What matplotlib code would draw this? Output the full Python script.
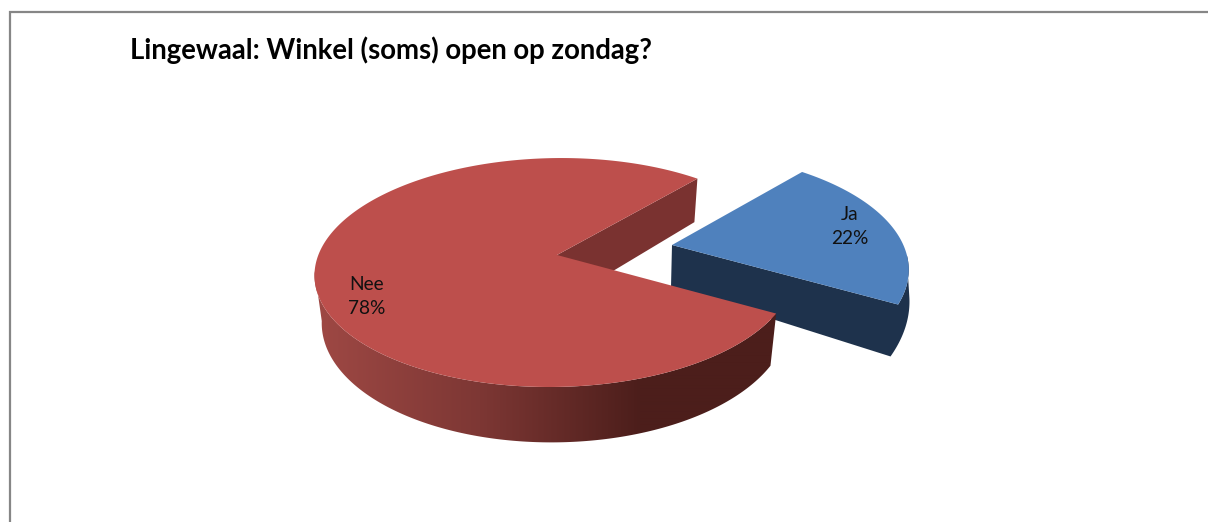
import numpy as np
import matplotlib
matplotlib.use("Agg")
import matplotlib.pyplot as plt
from matplotlib.patches import Polygon

title = "Lingewaal: Winkel (soms) open op zondag?"
categories = ["Ja", "Nee"]
values = [22, 78]

START = 50.0
RED_TOP = dict(ax=557, ay=255, R=237, ry=111.8, k=0.153, m=0.007, s=6)
RED_BOT = dict(ax=558, ay=304, R=231, ry=119, k=0.14, m=0.01, s=4)
BLUE_TOP = dict(ax=672, ay=245, R=242, ry=114, k=0.217, m=0.046, s=0)
BLUE_BOT = dict(ax=671, ay=287, R=248, ry=133, k=0.217, m=0.046, s=25)


def proj(p, deg):
    t = np.radians(np.asarray(deg, dtype=float))
    u, v = np.cos(t), np.sin(t)
    w = 1 + p["k"] * v + p["m"] * u
    return np.column_stack([p["ax"] + p["R"] * u / w + p["s"] * v, p["ay"] - p["ry"] * v / w])


def apex(p):
    return np.array([[p["ax"], p["ay"]]], dtype=float)


fig = plt.figure(figsize=(12.08, 5.22), dpi=100, facecolor="white")
ax = fig.add_axes([0, 0, 1, 1])
ax.set_xlim(0, 1208)
ax.set_ylim(522, 0)
ax.axis("off")

# frame
ax.plot([10, 10, 1208], [522, 12, 12], color="#868686", lw=1.6, solid_joinstyle="miter")

total = sum(values)
ja_sweep = 360 * values[0] / total
nee_sweep = 360 * values[1] / total
ja_a = START - ja_sweep
nee_b = START + nee_sweep

# red inner wall (behind everything)
wall = np.vstack([apex(RED_TOP), proj(RED_TOP, [START]), proj(RED_BOT, [START]), apex(RED_BOT)])
ax.add_patch(Polygon(wall, closed=True, fc="#7A3230", ec="none", zorder=2))

# blue side: front wall and outer band as one shape
arc = np.linspace(ja_a, -5, 50)
blue_side = np.vstack([apex(BLUE_TOP), proj(BLUE_TOP, arc), proj(BLUE_BOT, arc[::-1]), apex(BLUE_BOT)])
ax.add_patch(Polygon(blue_side, closed=True, fc="#1E324C", ec="none", zorder=3))

# blue top
ang = np.linspace(ja_a, START, 80)
ax.add_patch(Polygon(np.vstack([apex(BLUE_TOP), proj(BLUE_TOP, ang)]), closed=True,
                     fc="#4F81BD", ec="none", zorder=4))

# red outer side with a smooth horizontal gradient
arc = np.linspace(188, nee_b, 200)
band = np.vstack([proj(RED_TOP, arc), proj(RED_BOT, arc[::-1])])
clip = Polygon(band, closed=True, fc="none", ec="none", transform=ax.transData)
ax.add_patch(clip)
xs = np.arange(300, 800)
grad = np.stack([np.interp(xs, [318, 480, 640, 780], [158, 125, 76, 76]),
                 np.interp(xs, [318, 480, 640, 780], [72, 55, 30, 30]),
                 np.interp(xs, [318, 480, 640, 780], [68, 52, 27, 27])], axis=-1) / 255
im = ax.imshow(grad[np.newaxis, :, :], extent=(300, 800, 460, 250), aspect="auto",
               interpolation="bilinear", zorder=5)
im.set_clip_path(clip)
ax.set_xlim(0, 1208)
ax.set_ylim(522, 0)

# red top
ang = np.linspace(START, nee_b, 300)
ax.add_patch(Polygon(np.vstack([apex(RED_TOP), proj(RED_TOP, ang)]), closed=True,
                     fc="#BD4F4C", ec="none", zorder=6))

# text
ax.text(130, 50, title, fontfamily="Lato", fontweight="bold", fontsize=19.8,
        ha="left", va="center", color="black", zorder=10)
labels = [f"{c}\n{v}%" for c, v in zip(categories, values)]
for s, (x, y) in zip(labels, [(850, 227), (367, 296)]):
    ax.text(x, y, s, fontfamily="Lato", fontsize=13.8, ha="center", va="center",
            color="#111111", linespacing=1.5, zorder=10)

fig.savefig("out.png", dpi=100, facecolor="white")
